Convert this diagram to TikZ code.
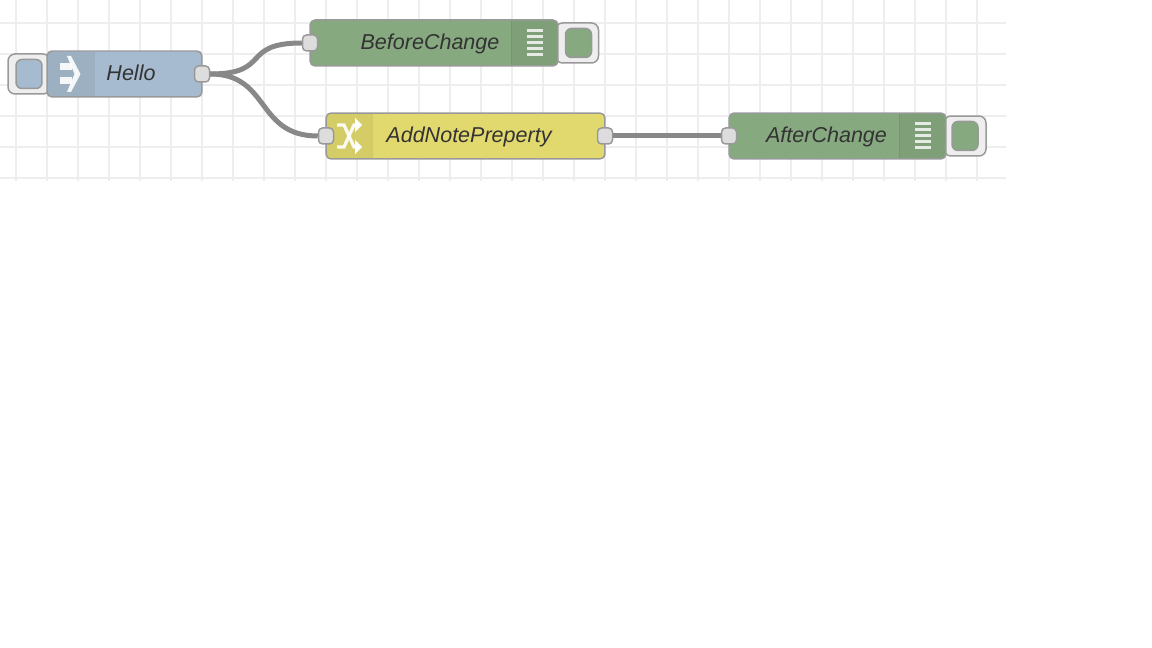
\documentclass[tikz,border=0pt]{standalone}
\usepackage{fontspec}
\setmainfont{Liberation Sans}
\definecolor{gridline}{HTML}{EEEEEE}
\definecolor{edge}{HTML}{999999}
\definecolor{wirecol}{HTML}{888888}
\definecolor{portcol}{HTML}{DDDDDD}
\definecolor{btncol}{HTML}{EEEEEE}
\definecolor{injectcol}{HTML}{A6BBCF}
\definecolor{debugcol}{HTML}{87A980}
\definecolor{changecol}{HTML}{E2D96E}
\definecolor{textcol}{HTML}{333333}
\tikzset{
  flowbody/.style={draw=edge, line width=0.03cm, rounded corners=0.1cm, minimum height=0.92cm, inner sep=0pt},
  btnouter/.style={draw=edge, line width=0.03cm, fill=btncol, rounded corners=0.14cm, minimum height=0.8cm, inner sep=0pt},
  btninner/.style={draw=edge, line width=0.03cm, rounded corners=0.12cm, minimum width=0.52cm, minimum height=0.58cm, inner sep=0pt},
  portbox/.style={draw=edge, line width=0.03cm, fill=portcol, rounded corners=0.08cm, minimum width=0.3cm, minimum height=0.32cm, inner sep=0pt},
  flowlabel/.style={text=textcol, font=\fontsize{12.25}{14}\selectfont\itshape, inner sep=0pt},
  wire/.style={draw=wirecol, line width=0.1cm},
  iconbar/.style={draw=white, draw opacity=0.8, line width=0.06cm},
  iconpart/.style={fill=black, fill opacity=0.06},
  iconsep/.style={draw=black, draw opacity=0.06, line width=0.02cm}
}
\begin{document}
\begin{tikzpicture}[x=0.02cm,y=-0.02cm]
\useasboundingbox (0,0) rectangle (1152,648);

% grid
\foreach \gx in {16,47,...,977} {
  \draw[gridline, line width=0.025cm] (\gx,0) -- (\gx,181);
}
\foreach \gy in {23,54,85,116,147,178} {
  \draw[gridline, line width=0.025cm] (0,\gy) -- (1006,\gy);
}

% buttons
\node[btnouter, minimum width=0.84cm] (hellobtn) at (29,74) {};
\node[btninner, fill=injectcol] (hellokey) at (29,74) {};
\node[btnouter, minimum width=0.86cm] (beforebtn) at (577,43) {};
\node[btninner, fill=debugcol] (beforekey) at (578.5,43) {};
\node[btnouter, minimum width=0.84cm] (afterbtn) at (965,136) {};
\node[btninner, fill=debugcol] (afterkey) at (965,136) {};

% Hello
\node[flowbody, fill=injectcol, minimum width=3.1cm] (hello) at (124.5,74) {};
\fill[iconpart, rounded corners=0.09cm] (94,52) -- (48,52) -- (48,96) -- (94,96);
\draw[iconsep] (94,52) -- (94,96);
\fill[white, fill opacity=0.9] (60,63) rectangle (72,70);
\fill[white, fill opacity=0.9] (60,77) rectangle (72,84);
\fill[white, fill opacity=0.9] (67,56) -- (71,56) -- (80.5,74) -- (71,92) -- (67,92) -- (74.5,74) -- cycle;
\node[flowlabel] (hellotext) at (131,73) {Hello};

% BeforeChange
\node[flowbody, fill=debugcol, minimum width=4.96cm] (before) at (434,43) {};
\fill[iconpart, rounded corners=0.09cm] (511,21) -- (557,21) -- (557,65) -- (511,65);
\draw[iconsep] (511,21) -- (511,65);
\foreach \by in {31,37,43,49,55} {
  \draw[iconbar] (527,\by) -- (543,\by);
}
\node[flowlabel] (beforetext) at (430,44) {BeforeChange};

% AddNotePreperty
\node[flowbody, fill=changecol, minimum width=5.58cm] (addnote) at (465.5,136) {};
\fill[iconpart, rounded corners=0.09cm] (372,114) -- (327,114) -- (327,158) -- (372,158);
\draw[iconsep] (372,114) -- (372,158);
\draw[white, draw opacity=0.9, line width=0.065cm] (337,125) -- (344,125) -- (354,147) -- (358,147);
\draw[white, draw opacity=0.9, line width=0.065cm] (337,147) -- (344,147) -- (354,125) -- (358,125);
\fill[white] (355,118) -- (362,125) -- (355,132) -- cycle;
\fill[white] (355,140) -- (362,147) -- (355,154) -- cycle;
\node[flowlabel] (addnotetext) at (469,136.5) {AddNotePreperty};

% AfterChange
\node[flowbody, fill=debugcol, minimum width=4.34cm] (after) at (837.5,136) {};
\fill[iconpart, rounded corners=0.09cm] (899,114) -- (945,114) -- (945,158) -- (899,158);
\draw[iconsep] (899,114) -- (899,158);
\foreach \by in {124,130,136,142,148} {
  \draw[iconbar] (915,\by) -- (931,\by);
}
\node[flowlabel] (aftertext) at (826.5,136.5) {AfterChange};

% ports
\node[portbox] (helloout) at (202,74) {};
\node[portbox] (beforein) at (310,43) {};
\node[portbox] (addnotein) at (326,136) {};
\node[portbox] (addnoteout) at (605,136) {};
\node[portbox] (afterin) at (729,136) {};

% wires
\draw[wire] (helloout.east) .. controls +(60,0) and +(-62,0) .. (addnotein.west);
\draw[wire] (helloout.east) .. controls +(62,0) and +(-62,0) .. (beforein.west);
\draw[wire] (addnoteout) -- (afterin);
\end{tikzpicture}
\end{document}
